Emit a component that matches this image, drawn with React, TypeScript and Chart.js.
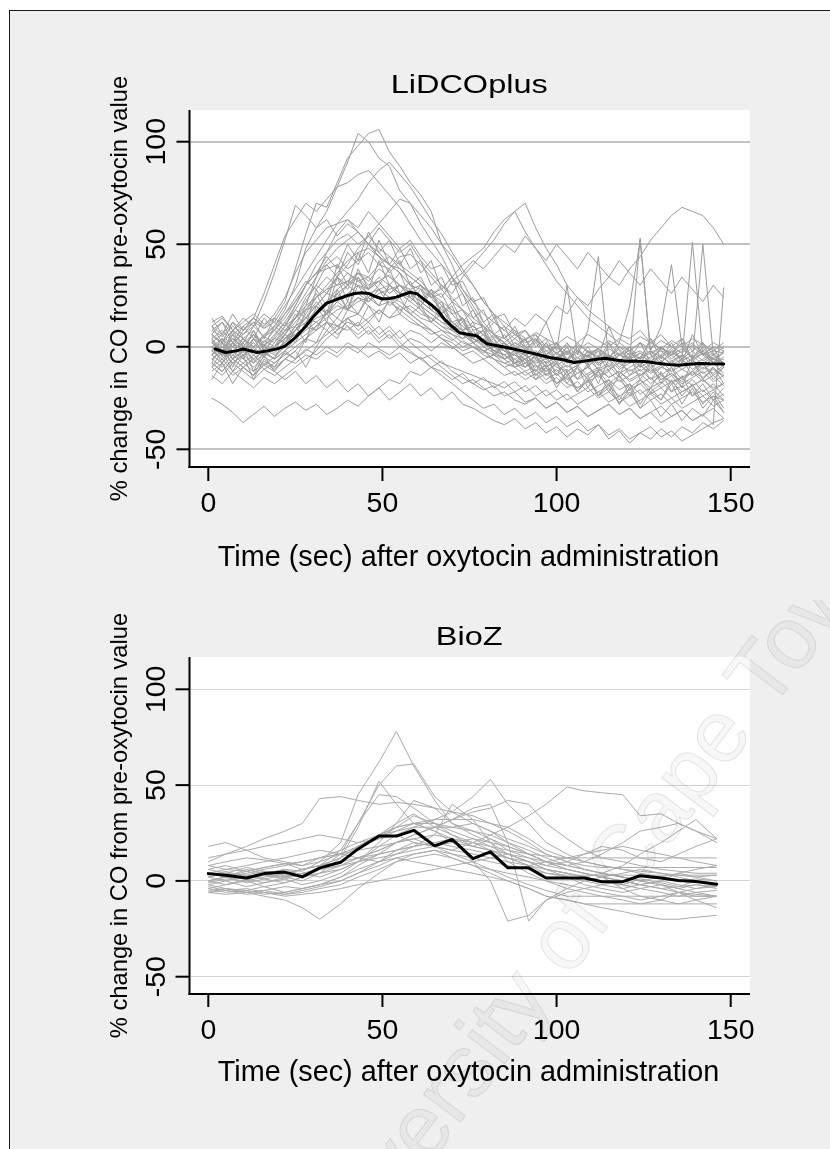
import React, { useEffect, useRef } from "react";
import { Chart, registerables } from "chart.js";

Chart.register(...registerables);

const FONT_FAMILY = '"Liberation Sans", Arial, Helvetica, sans-serif';

// ---------- shared axis content ----------
const X_TICKS = [0, 50, 100, 150];
const Y_TICKS = [-50, 0, 50, 100];
const X_TITLE = "Time (sec) after oxytocin administration";
const Y_TITLE = "% change in CO from pre-oxytocin value";
const WATERMARK = "University of Cape Town";

// ---------- LiDCOplus panel ----------
const LIDCO_TITLE = "LiDCOplus";
const LIDCO_TIMES = [1, 4, 7, 10, 13, 16, 19, 22, 25, 28, 31, 34, 37, 40, 43, 46, 49, 52, 55, 58, 61, 64, 67, 70, 73, 76, 79, 82, 85, 88, 91, 94, 97, 100, 103, 106, 109, 112, 115, 118, 121, 124, 127, 130, 133, 136, 139, 142, 145, 148];
const LIDCO_MEAN_TIMES = [2, 5, 8, 10, 14, 17, 20, 22, 25, 28, 30, 32, 34, 36, 38, 40, 42, 44, 46, 48, 50, 52, 54, 56, 58, 60, 62, 64, 66, 68, 70, 72, 74, 77, 80, 83, 86, 90, 94, 98, 102, 105, 108, 111, 114, 117, 120, 123, 126, 129, 132, 135, 138, 141, 144, 148];
const LIDCO_MEAN = [-1.1, -2.8, -2, -1.1, -2.8, -2, -0.9, 0.3, 4.5, 10, 14.4, 18, 21.3, 22.5, 23.8, 25, 26, 26.3, 26, 24.5, 23.3, 23.5, 24.2, 25.5, 26.6, 25.8, 23, 20.5, 17.5, 13, 10, 7, 6.2, 5.4, 1.5, 0.5, -0.5, -2, -3.5, -5.2, -6.3, -7.7, -7, -6.2, -5.6, -6.5, -7.1, -7, -7.3, -8, -8.6, -9, -8.5, -8.1, -8.3, -8.4];
const LIDCO_SUBJECTS: number[][] = [
  [8, 5, 10, 6, 12, 9, 14, 22, 38, 55, 70, 68, 80, 92, 98, 104, 106, 95, 88, 80, 74, 66, 50, 40, 28, 20, 12, 6, 2, -2, -4, -8, -6, -10, -12, -9, -14, -11, -15, -12, -16, -13, -18, -14, -17, -15, -19, -16, -20, -18],
  [5, 2, -3, 4, 0, 6, 10, 18, 30, 48, 58, 66, 78, 90, 104, 100, 92, 88, 76, 70, 60, 52, 44, 34, 26, 18, 10, 4, -2, -6, -3, -9, -12, -8, -14, -10, -16, -12, -9, -15, -11, -14, -10, -16, -13, -17, -12, -15, -11, -14],
  [12, 15, 8, 14, 10, 16, 12, 20, 28, 36, 44, 52, 60, 66, 72, 80, 86, 90, 84, 78, 70, 62, 55, 46, 38, 30, 22, 16, 10, 6, 2, 4, -2, 0, -4, 2, -3, -1, -5, 0, -4, -2, -6, -1, -3, -5, 0, -4, -2, -3],
  [-2, 4, 0, 8, 14, 26, 40, 54, 62, 70, 66, 72, 78, 80, 84, 86, 80, 74, 68, 60, 52, 46, 40, 34, 28, 22, 16, 12, 8, 4, 0, -4, -2, -6, -3, -8, -5, -2, -7, -4, -6, -3, -8, -5, -2, -7, -4, -9, -6, -8],
  [4, -2, 6, 2, 10, 22, 36, 52, 69, 64, 58, 62, 54, 60, 56, 50, 58, 52, 46, 50, 42, 36, 30, 24, 18, 14, 10, 6, 2, -2, -4, -2, -6, -3, -8, -5, -9, -6, -4, -8, -5, -10, -7, -4, -9, -6, -11, -8, -5, -10],
  [-6, -2, -8, -4, -1, -5, 0, 4, 8, 14, 20, 26, 34, 40, 48, 54, 60, 66, 72, 70, 64, 58, 50, 44, 36, 30, 22, 16, 12, 8, 4, 6, 0, 2, -3, 1, -2, -5, -1, -4, -2, -6, -3, 0, -4, -1, -5, -2, -6, -3],
  [10, 6, 12, 8, 14, 10, 16, 24, 36, 46, 52, 58, 60, 62, 56, 50, 44, 40, 36, 30, 24, 20, 14, 10, 8, 4, 2, -2, -4, -8, -6, -10, -7, -12, -9, -13, -10, -14, -11, -8, -12, -9, -13, -10, -7, -11, -14, -10, -13, -9],
  [-10, -6, -12, -8, -4, -9, -5, 0, 8, 16, 24, 30, 36, 42, 46, 48, 44, 40, 38, 34, 30, 24, 18, 12, 8, 2, -2, -6, -10, -8, -12, -9, -14, -11, -16, -13, -10, -15, -12, -17, -14, -11, -16, -13, -18, -15, -12, -17, -14, -19],
  [2, 6, 0, 4, -2, 3, 0, 4, 8, 12, 18, 22, 28, 32, 36, 34, 40, 38, 44, 45, 40, 34, 28, 22, 18, 12, 10, 6, 4, 0, -2, 2, -4, 0, -6, -2, -5, -8, -4, -7, -3, -8, -5, -2, -7, -4, -9, -6, -3, -8],
  [0, -4, 2, -2, 4, 0, 6, 12, 20, 30, 36, 38, 40, 36, 32, 34, 28, 30, 26, 24, 20, 16, 12, 10, 6, 4, 0, -3, -6, -4, -8, -5, -10, -7, -12, -9, -6, -11, -8, -13, -10, -7, -12, -9, -14, -11, -8, -13, -10, -15],
  [-8, -12, -6, -10, -14, -8, -11, -6, -2, 4, 10, 16, 22, 26, 30, 28, 32, 35, 30, 26, 22, 18, 14, 10, 6, 2, -2, -6, -10, -14, -12, -16, -13, -18, -15, -20, -17, -14, -19, -16, -21, -18, -15, -20, -17, -22, -19, -16, -21, -18],
  [6, 2, 8, 4, 0, 5, 2, 8, 14, 20, 24, 28, 30, 32, 30, 26, 28, 24, 22, 18, 14, 12, 8, 6, 2, 0, -2, -4, -6, -3, -8, -4, -10, -6, -2, -7, -4, -9, -5, -1, -6, -3, -8, -4, -1, -6, -2, -7, -4, -9],
  [-4, 0, -6, -2, 2, -3, -6, -2, 2, 6, 10, 14, 18, 20, 24, 22, 26, 28, 30, 28, 30, 26, 22, 18, 14, 10, 6, 2, -2, -4, -6, -3, -8, -5, -10, -7, -4, -9, -6, -11, -8, -5, -10, -7, -12, -9, -6, -11, -8, -13],
  [2, -2, 4, 0, -4, 1, -2, 2, 6, 10, 14, 16, 20, 18, 22, 24, 20, 22, 18, 20, 16, 14, 10, 8, 6, 2, 4, 0, -2, 2, -1, -4, 0, -3, -6, -2, -5, -1, -4, -7, -3, -6, -2, -5, -8, -4, -7, -3, -6, -9],
  [-12, -8, -14, -10, -6, -11, -8, -4, 0, 4, 8, 12, 10, 14, 16, 12, 18, 14, 16, 12, 10, 8, 4, 2, -2, 0, -4, -6, -8, -10, -14, -11, -16, -13, -18, -20, -17, -22, -19, -24, -21, -18, -23, -20, -25, -22, -19, -24, -21, -26],
  [-6, -10, -4, -8, -12, -7, -10, -6, -8, -4, -6, -2, -5, 0, -3, 2, -1, -4, 0, -3, -6, -4, -8, -10, -12, -14, -16, -18, -20, -17, -22, -19, -24, -21, -26, -23, -20, -25, -22, -27, -24, -21, -26, -23, -28, -25, -22, -27, -24, -26],
  [4, 8, 2, 6, 10, 5, 8, 4, 6, 10, 8, 12, 6, 10, 4, 8, 2, 6, 0, 4, 2, -2, 2, -1, 3, 0, -3, 1, -2, 2, -1, 3, 0, -3, 1, -2, 2, -1, 3, 0, -2, 2, -1, 3, 0, -3, 1, -2, 2, -1],
  [-25, -28, -32, -37, -33, -29, -34, -30, -27, -31, -28, -33, -30, -26, -29, -24, -20, -16, -18, -12, -14, -10, -12, -16, -13, -18, -15, -20, -17, -22, -19, -24, -21, -26, -23, -28, -25, -22, -27, -24, -29, -26, -23, -28, -25, -30, -27, -24, -29, -26],
  [-8, -12, -6, -10, -14, -9, -12, -16, -12, -18, -14, -20, -16, -22, -18, -24, -20, -26, -22, -18, -24, -20, -26, -22, -28, -30, -33, -36, -38, -35, -40, -37, -42, -39, -44, -40, -43, -38, -45, -41, -47, -42, -45, -40, -44, -39, -42, -37, -40, -36],
  [0, -4, 2, -2, -6, -1, -4, 0, 4, 8, 12, 8, 14, 10, 6, 10, 4, 8, 2, -2, -6, -10, -14, -18, -22, -26, -30, -28, -33, -30, -35, -32, -37, -34, -39, -36, -41, -38, -43, -40, -45, -42, -39, -44, -41, -46, -43, -40, -37, -35],
  [-4, -8, -2, -6, -10, -5, -8, -3, -6, -1, -4, 0, -3, 2, -1, -5, -2, -6, -3, -8, -5, -10, -7, -12, -15, -18, -21, -19, -24, -22, -27, -25, -30, -27, -32, -29, -34, -31, -28, -33, -30, -35, -32, -29, -34, -31, -36, -33, -30, -35],
  [2, -2, 4, 0, 6, 2, 8, 14, 22, 30, 36, 40, 44, 38, 42, 46, 40, 44, 38, 34, 30, 26, 28, 34, 40, 44, 48, 56, 62, 66, 70, 58, 48, 40, 30, 24, 18, 14, 10, 6, 4, 8, 2, 6, 0, 4, -2, 2, -4, 0],
  [-2, 2, -4, 0, -6, -2, 0, 6, 14, 22, 30, 26, 34, 28, 36, 30, 32, 26, 30, 24, 20, 28, 24, 32, 36, 42, 38, 44, 50, 46, 54, 48, 42, 50, 44, 38, 46, 40, 34, 42, 36, 30, 38, 32, 26, 34, 28, 22, 30, 24],
  [6, 2, 8, 4, 0, 5, 10, 16, 24, 32, 28, 34, 30, 36, 32, 28, 34, 30, 26, 22, 18, 14, 10, 6, 4, 8, 2, 6, 0, 4, 8, 2, 12, -2, 30, -4, 8, 44, -6, 2, 20, 52, -2, 10, 40, 0, -6, 50, -4, -8],
  [-4, 0, -6, -2, 2, -3, 0, 6, 12, 18, 24, 28, 34, 30, 36, 32, 38, 34, 30, 26, 22, 18, 14, 12, 8, 10, 6, 12, 8, 14, 10, 16, 12, 20, 16, 24, 20, 28, 34, 30, 38, 44, 52, 58, 64, 68, 66, 64, 58, 50],
  [0, 4, -2, 2, 6, 1, 4, 10, 18, 26, 34, 42, 48, 52, 56, 50, 46, 40, 36, 30, 28, 24, 30, 26, 34, 40, 46, 52, 60, 66, 56, 48, 40, 32, 26, 20, 14, 10, 6, 2, -2, 2, -4, 0, -6, -2, 2, -4, 0, -2],
  [-6, -2, -8, -4, 0, -5, 2, 10, 20, 30, 40, 46, 52, 55, 50, 54, 48, 44, 40, 36, 32, 26, 20, 16, 10, 6, 2, -2, -6, -10, -8, -12, -9, -14, -11, -16, -13, -10, -15, -12, -17, -14, -11, -16, -13, -18, -15, -12, -17, -14],
  [-10, -14, -8, -12, -16, -11, -14, -10, -6, -2, 2, 6, 10, 8, 12, 6, 10, 4, 8, 2, -2, -6, -10, -14, -18, -16, -20, -24, -22, -26, -28, -25, -30, -27, -32, -29, -34, -31, -28, -33, -30, -35, -32, -37, -34, -31, -36, -33, -38, 29],
  [8, 12, 6, 10, 14, 9, 12, 8, 10, 14, 12, 16, 10, 14, 8, 12, 6, 10, 4, 8, 6, 2, 6, 3, 7, 4, 1, 5, 2, 6, 3, 7, 4, 1, 5, 2, 6, 3, 0, 4, 1, 5, 2, -1, 3, 0, 4, 1, -2, 2],
  [-2, -6, 0, -4, -8, -3, -6, -2, 4, 10, 16, 22, 26, 30, 34, 28, 32, 26, 30, 24, 20, 16, 12, 8, 4, 6, 2, -2, -4, -8, -10, -6, -12, -8, -14, -10, -16, -12, -18, -14, -20, -16, -22, -18, -14, -20, -16, -22, -18, -24],
  [10, 14, 8, 12, 16, 11, 14, 10, 14, 18, 20, 16, 22, 18, 24, 20, 16, 22, 18, 14, 10, 6, 8, 4, 0, 2, -2, 0, -4, -2, -6, -3, -8, -5, -2, -7, -4, -1, -6, -3, -8, -5, -2, -7, -4, -9, -6, -3, -8, -5],
  [-14, -18, -12, -16, -20, -15, -18, -14, -10, -6, -2, 4, 8, 12, 10, 14, 18, 14, 20, 16, 12, 8, 4, 0, -4, -8, -6, -10, -14, -12, -16, -13, -18, -15, -20, -17, -22, -19, -16, -21, -18, -23, -20, -17, -22, -19, -24, -21, -26, -23],
  [0, -4, 2, -2, 4, 0, -3, 2, 8, 14, 20, 26, 24, 30, 26, 22, 28, 24, 20, 16, 12, 8, 4, 0, -4, -2, -6, -4, -8, -6, -10, -7, -4, -9, -6, -3, -8, -5, 10, -2, -6, 53, -4, -8, -2, -6, 51, -4, -8, -6],
  [3, -5, 6, -3, 8, -2, 5, 12, 4, 18, 26, 16, 34, 22, 38, 28, 42, 30, 36, 24, 30, 18, 22, 10, 14, 4, 8, -4, 2, -8, -2, -12, -4, -14, -6, -16, -8, -18, -6, -14, -4, -16, -8, -18, -10, -20, -6, -16, -10, -18],
  [-8, 2, -10, 0, -12, -2, -6, 4, 10, 2, 20, 12, 28, 18, 34, 24, 30, 38, 26, 32, 22, 28, 16, 20, 8, 12, 0, 4, -6, -2, -10, -4, -14, -8, -18, -10, -20, -12, -22, -14, -24, -16, -20, -12, -22, -14, -24, -18, -26, -20],
  [10, 2, 12, 4, 8, 0, 10, 6, 16, 10, 28, 20, 40, 30, 46, 36, 52, 40, 48, 38, 42, 30, 34, 22, 26, 14, 18, 6, 10, 0, 4, -6, 2, -8, 0, -10, -2, -12, 2, -8, 0, -10, 4, -6, 2, -8, 6, -4, 0, -10],
  [-16, -8, -18, -10, -14, -4, -12, -6, -2, -10, 0, 8, 4, 14, 10, 20, 12, 24, 16, 26, 18, 12, 20, 8, 14, 2, 6, -4, 0, -10, -6, -16, -10, -20, -12, -22, -16, -24, -18, -28, -20, -30, -22, -26, -18, -28, -20, -30, -24, -32],
  [6, 12, 2, 10, 4, 14, 8, 16, 22, 30, 36, 44, 38, 50, 42, 56, 46, 52, 40, 48, 36, 42, 28, 34, 20, 24, 12, 16, 4, 8, -2, 4, -6, 2, -8, 0, -10, -4, -12, -6, -14, -8, -16, -10, -12, -6, -14, -8, -16, -10],
  [-4, 4, -6, 2, -8, 0, -2, 6, 2, 12, 8, 18, 14, 22, 16, 26, 20, 30, 24, 28, 20, 26, 16, 22, 12, 18, 8, 14, 4, 10, 0, 6, -4, 2, -6, 0, -8, -2, -10, -4, -6, 2, -8, 0, -4, 4, -6, 2, -8, -2],
  [0, -8, 2, -6, 4, -4, 0, 8, 14, 24, 30, 40, 34, 46, 40, 50, 44, 36, 42, 30, 34, 24, 26, 16, 18, 8, 10, 0, 2, -8, -4, -14, -8, -18, -12, -22, -14, -24, -16, -26, -18, -28, -20, -26, -16, -24, -18, -28, -22, -30],
  [14, 6, 16, 8, 12, 4, 14, 10, 18, 14, 22, 16, 26, 18, 30, 22, 28, 20, 24, 16, 20, 12, 16, 8, 12, 4, 8, 0, 6, -2, 4, -4, 2, -6, 0, -8, -2, -6, 2, -4, 0, -6, 4, -2, -4, 2, -6, 0, -8, -2],
  [-10, -2, -12, -4, -16, -6, -10, -2, -6, 4, 2, 12, 8, 18, 16, 24, 20, 30, 26, 22, 28, 18, 22, 12, 14, 6, 8, -2, 0, -8, -6, -14, -10, -18, -14, -22, -16, -24, -20, -28, -22, -30, -26, -34, -28, -36, -30, -34, -26, -32],
  [4, -4, 8, 0, 6, -2, 4, 2, 10, 20, 34, 46, 56, 62, 58, 66, 60, 54, 48, 52, 44, 38, 40, 30, 32, 22, 24, 14, 16, 6, 8, 0, 4, -4, 2, -6, 0, -8, -4, -10, -6, -12, -8, -14, -10, -16, -12, -8, -14, -10],
];

// ---------- BioZ panel ----------
const BIOZ_TITLE = "BioZ";
const BIOZ_TIMES = [0, 5, 11, 16, 22, 27, 32, 38, 43, 49, 54, 59, 65, 70, 76, 81, 86, 92, 97, 103, 108, 113, 119, 124, 130, 135, 140, 146];
const BIOZ_MEAN = [3.8, 3, 1.5, 3.8, 4.6, 2.1, 6.8, 9.7, 16.7, 23.4, 23.4, 26.4, 18.3, 21.7, 11.6, 15.2, 6.8, 6.8, 1.5, 1.5, 1.5, -0.4, -0.4, 2.7, 1.5, 0.2, -0.3, -1.7];
const BIOZ_SUBJECTS: number[][] = [
  [2, 4, 1, 3, 6, 5, 10, 20, 45, 62, 78, 60, 42, 30, 24, 20, 14, 10, 6, 4, 2, 0, -2, 1, -1, -3, 0, -2],
  [10, 14, 18, 22, 26, 30, 43, 44, 42, 40, 41, 40, 38, 36, 34, 30, 28, 22, 16, 12, 10, 8, 6, 5, 4, 3, 2, 3],
  [-2, -4, -6, -8, -10, -14, -20, -12, -4, 4, 10, 14, 16, 12, 8, 6, 4, 2, 0, -2, -4, -6, -8, -10, -8, -6, -7, -8],
  [0, 2, -1, 1, 3, 2, 6, 14, 30, 50, 60, 61, 44, 36, 30, 26, 20, 14, 10, 6, 4, 2, 0, -2, -4, -6, -8, -8],
  [4, 2, 5, 3, 1, 4, 2, 6, 10, 18, 24, 28, 32, 36, 44, 53, 40, 30, 20, 14, 10, 8, 6, 4, 2, 0, 1, 0],
  [-4, -2, 0, -3, -1, 2, 4, 8, 12, 16, 20, 24, 28, 32, 36, 38, 42, 40, 30, 22, 16, 12, 10, 8, 6, 5, 4, 4],
  [6, 8, 5, 7, 9, 6, 8, 12, 18, 24, 28, 30, 26, 22, 10, 0, -21, -18, -10, -6, -4, -2, 0, -2, -4, -3, -2, -3],
  [-6, -4, -5, -3, -6, -4, -2, 2, 8, 14, 20, 22, 18, 16, 20, 24, 28, 34, 40, 49, 47, 46, 45, 34, 35, 30, 26, 22],
  [2, 0, 3, 1, -1, 2, 4, 6, 10, 14, 16, 18, 20, 22, 18, 16, 14, 12, 10, 8, 6, 4, 8, 14, 20, 26, 32, 22],
  [8, 10, 12, 11, 9, 10, 12, 14, 16, 18, 20, 22, 24, 22, 20, 18, 16, 14, 13, 12, 12, 12, 12, 12, 12, 12, 12, 12],
  [0, 2, 4, 6, 8, 10, 12, 14, 18, 22, 26, 30, 32, 32, 32, 30, 26, 20, 14, 10, 8, 7, 7, 7, 7, 7, 7, 7],
  [-3, -5, -4, -6, -7, -5, -3, 0, 4, 10, 16, 20, 18, 14, 10, 6, 2, -2, -5, -8, -8, -8, -8, -8, -8, -8, -8, -8],
  [-6, -7, -6, -5, -7, -6, -4, -2, 2, 6, 10, 12, 14, 12, 8, 4, 0, -4, -8, -10, -12, -12, -12, -12, -12, -12, -12, -12],
  [-5, -4, -6, -5, -3, -4, -2, 0, 4, 8, 12, 10, 8, 6, 4, 2, 0, -4, -8, -10, -12, -14, -16, -18, -20, -20, -19, -18],
  [3, 5, 2, 4, 6, 3, 6, 10, 16, 24, 30, 35, 28, 24, 20, 16, 12, 8, 4, 2, 0, -2, -4, -2, 0, -2, -4, -3],
  [6, 4, 7, 5, 3, 6, 8, 16, 30, 45, 44, 38, 30, 26, 22, 18, 14, 10, 6, 4, 2, 0, -2, -4, -6, -8, -6, -5],
  [0, -2, 1, -1, 2, 0, 4, 12, 28, 52, 40, 30, 26, 20, 18, 16, 12, 8, 6, 4, 2, 4, 2, 0, 2, 4, 2, 0],
  [12, 14, 16, 18, 20, 22, 24, 22, 20, 22, 24, 20, 18, 16, 14, 12, 10, 8, 10, 12, 14, 16, 18, 16, 14, 12, 10, 8],
  [18, 20, 16, 12, 10, 8, 10, 14, 18, 22, 28, 34, 30, 24, 18, 22, 16, 12, 8, 6, 4, 2, 0, -2, 0, 4, 6, 8],
  [-2, 0, -3, -1, 1, -2, 0, 4, 10, 20, 30, 42, 38, 30, 26, 22, 18, 14, 10, 6, 4, 2, -4, -8, -10, -12, -10, -8],
  [4, 6, 8, 10, 12, 14, 16, 14, 12, 10, 12, 14, 16, 14, 12, 10, 8, 6, 4, 3, 3, 3, 3, 3, 3, 3, 3, 3],
  [-4, -6, -5, -7, -6, -4, -2, 2, 6, 10, 14, 18, 24, 40, 32, 20, 10, 4, 0, -4, -6, -8, -10, -12, -10, -6, -4, -2],
  [-6, -5, -7, -6, -8, -7, -6, -4, -2, 0, 2, 4, 6, 8, 10, 12, 14, 10, 6, 2, -2, -4, -6, -4, -2, -6, -10, -14],
  [8, 6, 5, 7, 9, 8, 12, 16, 20, 24, 28, 30, 30, 28, 30, 26, 22, 18, 14, 10, 6, 4, 2, 0, -2, -4, -2, -4],
  [2, 4, 3, 5, 4, 6, 8, 10, 12, 14, 16, 18, 20, 18, 16, 14, 12, 10, 8, 10, 14, 18, 16, 12, 10, 14, 18, 22],
  [-1, 1, 0, 2, 4, 6, 8, 12, 18, 24, 26, 28, 28, 28, 26, 24, 20, 16, 12, 8, 6, 4, 2, 0, -2, -4, -6, -8],
  [0, 2, 1, 3, 2, 4, 6, 8, 12, 16, 20, 24, 28, 32, 38, 40, 20, -21, -10, -4, 0, 2, 4, 6, 4, 2, 0, -2],
  [4, 2, 6, 4, 2, 4, 6, 8, 10, 12, 14, 16, 18, 20, 22, 20, 18, 14, 10, 8, 10, 14, 20, 26, 28, 30, 26, 20],
];

// ---------- layout / style of each panel (not data) ----------
const PAGE_W = 830;
const PAGE_H = 1149;

type PanelSpec = {
  title: string;
  times: number[];
  subjects: number[][];
  meanTimes: number[];
  mean: number[];
  top: number;
  height: number;
  area: { left: number; right: number; top: number; bottom: number };
  xRange: [number, number];
  yRange: [number, number];
  gridColor: string;
  gridWidth: number;
  lineColor: string;
  meanWidth: number;
  yTickLen: number;
  xTickLen: number;
  xLabelBaseline: number;
  titleBaseline: number;
  xTitleBaseline: number;
  watermark: boolean;
};

const PANELS: PanelSpec[] = [
  {
    title: LIDCO_TITLE,
    times: LIDCO_TIMES,
    subjects: LIDCO_SUBJECTS,
    meanTimes: LIDCO_MEAN_TIMES,
    mean: LIDCO_MEAN,
    top: 0,
    height: 600,
    area: { left: 190, right: 750, top: 110, bottom: 467 },
    xRange: [-5.255, 155.54],
    yRange: [-58.63, 115.46],
    gridColor: "#c2c2c2",
    gridWidth: 2,
    lineColor: "#9c9c9c",
    meanWidth: 3,
    yTickLen: 12,
    xTickLen: 14,
    xLabelBaseline: 512,
    titleBaseline: 92.7,
    xTitleBaseline: 566.4,
    watermark: false,
  },
  {
    title: BIOZ_TITLE,
    times: BIOZ_TIMES,
    subjects: BIOZ_SUBJECTS,
    meanTimes: BIOZ_TIMES,
    mean: BIOZ_MEAN,
    top: 600,
    height: 549,
    area: { left: 190, right: 750, top: 57, bottom: 394 },
    xRange: [-5.255, 155.54],
    yRange: [-59.03, 116.86],
    gridColor: "#d3d3d3",
    gridWidth: 1,
    lineColor: "#ababab",
    meanWidth: 3,
    yTickLen: 13,
    xTickLen: 13,
    xLabelBaseline: 439.3,
    titleBaseline: 45,
    xTitleBaseline: 480.7,
    watermark: true,
  },
];

function makeStataPlugin(spec: PanelSpec) {
  return {
    id: "stataFrame",
    beforeDraw(chart: any) {
      const { ctx, chartArea: a } = chart;
      ctx.save();
      ctx.fillStyle = "#ffffff";
      ctx.fillRect(a.left, a.top, a.right - a.left, a.bottom - a.top);
      ctx.restore();
    },
    afterDraw(chart: any) {
      const { ctx, chartArea: a, scales } = chart;
      const xs = scales.x;
      const ys = scales.y;
      ctx.save();
      ctx.strokeStyle = "#000";
      ctx.fillStyle = "#000";
      ctx.lineWidth = 2;
      ctx.lineCap = "butt";
      // axis lines
      ctx.beginPath();
      ctx.moveTo(a.left - 0.5, a.top);
      ctx.lineTo(a.left - 0.5, a.bottom + 1);
      ctx.stroke();
      ctx.beginPath();
      ctx.moveTo(a.left - 1.5, a.bottom);
      ctx.lineTo(a.right, a.bottom);
      ctx.stroke();
      // y ticks and labels
      ctx.font = `28.5px ${FONT_FAMILY}`;
      ctx.textAlign = "center";
      ctx.textBaseline = "alphabetic";
      for (const v of Y_TICKS) {
        const y = ys.getPixelForValue(v);
        ctx.beginPath();
        ctx.moveTo(a.left - 1.5 - spec.yTickLen, y);
        ctx.lineTo(a.left - 0.5, y);
        ctx.stroke();
        ctx.save();
        ctx.translate(165, y);
        ctx.rotate(-Math.PI / 2);
        ctx.fillText(String(v), 0, 0);
        ctx.restore();
      }
      // x ticks and labels
      for (const v of X_TICKS) {
        const x = xs.getPixelForValue(v);
        ctx.beginPath();
        ctx.moveTo(x, a.bottom);
        ctx.lineTo(x, a.bottom + spec.xTickLen);
        ctx.stroke();
        ctx.fillText(String(v), x, spec.xLabelBaseline);
      }
      // y axis title
      ctx.save();
      ctx.font = `23.7px ${FONT_FAMILY}`;
      ctx.translate(126.7, (a.top + a.bottom) / 2);
      ctx.rotate(-Math.PI / 2);
      ctx.fillText(Y_TITLE, 0, 0);
      ctx.restore();
      // x axis title
      ctx.font = `28.8px ${FONT_FAMILY}`;
      ctx.fillText(X_TITLE, (a.left + a.right) / 2 - 1.5, spec.xTitleBaseline);
      // panel title (wide rendering)
      ctx.save();
      ctx.font = `25px ${FONT_FAMILY}`;
      ctx.translate((a.left + a.right) / 2 - 0.8, spec.titleBaseline);
      ctx.scale(1.3, 1);
      ctx.fillText(spec.title, 0, 0);
      ctx.restore();
      // faint watermark
      if (spec.watermark) {
        ctx.save();
        ctx.translate(321.7, 706.6);
        ctx.rotate((-53 * Math.PI) / 180);
        ctx.font = `88px ${FONT_FAMILY}`;
        ctx.textAlign = "left";
        ctx.fillStyle = "rgba(0,0,0,0.03)";
        ctx.fillText(WATERMARK, 0, 0);
        ctx.strokeStyle = "rgba(0,0,0,0.1)";
        ctx.lineWidth = 1;
        ctx.strokeText(WATERMARK, 0, 0);
        ctx.restore();
      }
      ctx.restore();
    },
  };
}

function PanelChart({ spec }: { spec: PanelSpec }) {
  const ref = useRef<HTMLCanvasElement | null>(null);
  useEffect(() => {
    const canvas = ref.current;
    if (!canvas) return;
    const a = spec.area;
    const meanSet = {
      label: "mean",
      data: spec.meanTimes.map((t, i) => ({ x: t, y: spec.mean[i] })),
      borderColor: "#000000",
      borderWidth: spec.meanWidth,
      pointRadius: 0,
      tension: 0,
      order: -1,
      borderJoinStyle: "round" as const,
      borderCapStyle: "round" as const,
    };
    const subjectSets = spec.subjects.map((vals, k) => ({
      label: `subject ${k + 1}`,
      data: vals.map((v, i) => ({ x: spec.times[i], y: v })),
      borderColor: spec.lineColor,
      borderWidth: 1,
      pointRadius: 0,
      tension: 0,
      order: 0,
      borderJoinStyle: "round" as const,
    }));
    const chart = new Chart(canvas, {
      type: "line",
      data: { datasets: [meanSet, ...subjectSets] as any },
      options: {
        animation: false,
        responsive: false,
        devicePixelRatio: 1,
        events: [],
        layout: {
          padding: {
            left: a.left,
            right: PAGE_W - a.right,
            top: a.top,
            bottom: spec.height - a.bottom,
          },
        },
        plugins: {
          legend: { display: false },
          tooltip: { enabled: false },
          title: { display: false },
        },
        scales: {
          x: {
            type: "linear",
            min: spec.xRange[0],
            max: spec.xRange[1],
            grid: { display: false, drawTicks: false },
            border: { display: false },
            ticks: { display: false },
          },
          y: {
            type: "linear",
            min: spec.yRange[0],
            max: spec.yRange[1],
            grid: { color: spec.gridColor, lineWidth: spec.gridWidth, drawTicks: false },
            border: { display: false },
            ticks: { display: false },
            afterBuildTicks: (scale: any) => {
              scale.ticks = Y_TICKS.map((v) => ({ value: v }));
            },
          },
        },
      } as any,
      plugins: [makeStataPlugin(spec)],
    });
    return () => chart.destroy();
  }, [spec]);
  return (
    <canvas
      ref={ref}
      width={PAGE_W}
      height={spec.height}
      style={{ position: "absolute", left: 0, top: spec.top, width: PAGE_W, height: spec.height }}
    />
  );
}

export default function App() {
  return (
    <div
      style={{
        position: "absolute",
        left: 0,
        top: 0,
        width: PAGE_W,
        height: PAGE_H,
        overflow: "hidden",
        background: "#ffffff",
      }}
    >
      <div
        style={{
          position: "absolute",
          left: 9,
          top: 10,
          width: 1000,
          height: 1400,
          background: "#efefef",
          border: "1px solid #1a1a1a",
          boxSizing: "border-box",
        }}
      />
      {PANELS.map((p) => (
        <PanelChart key={p.title} spec={p} />
      ))}
    </div>
  );
}
